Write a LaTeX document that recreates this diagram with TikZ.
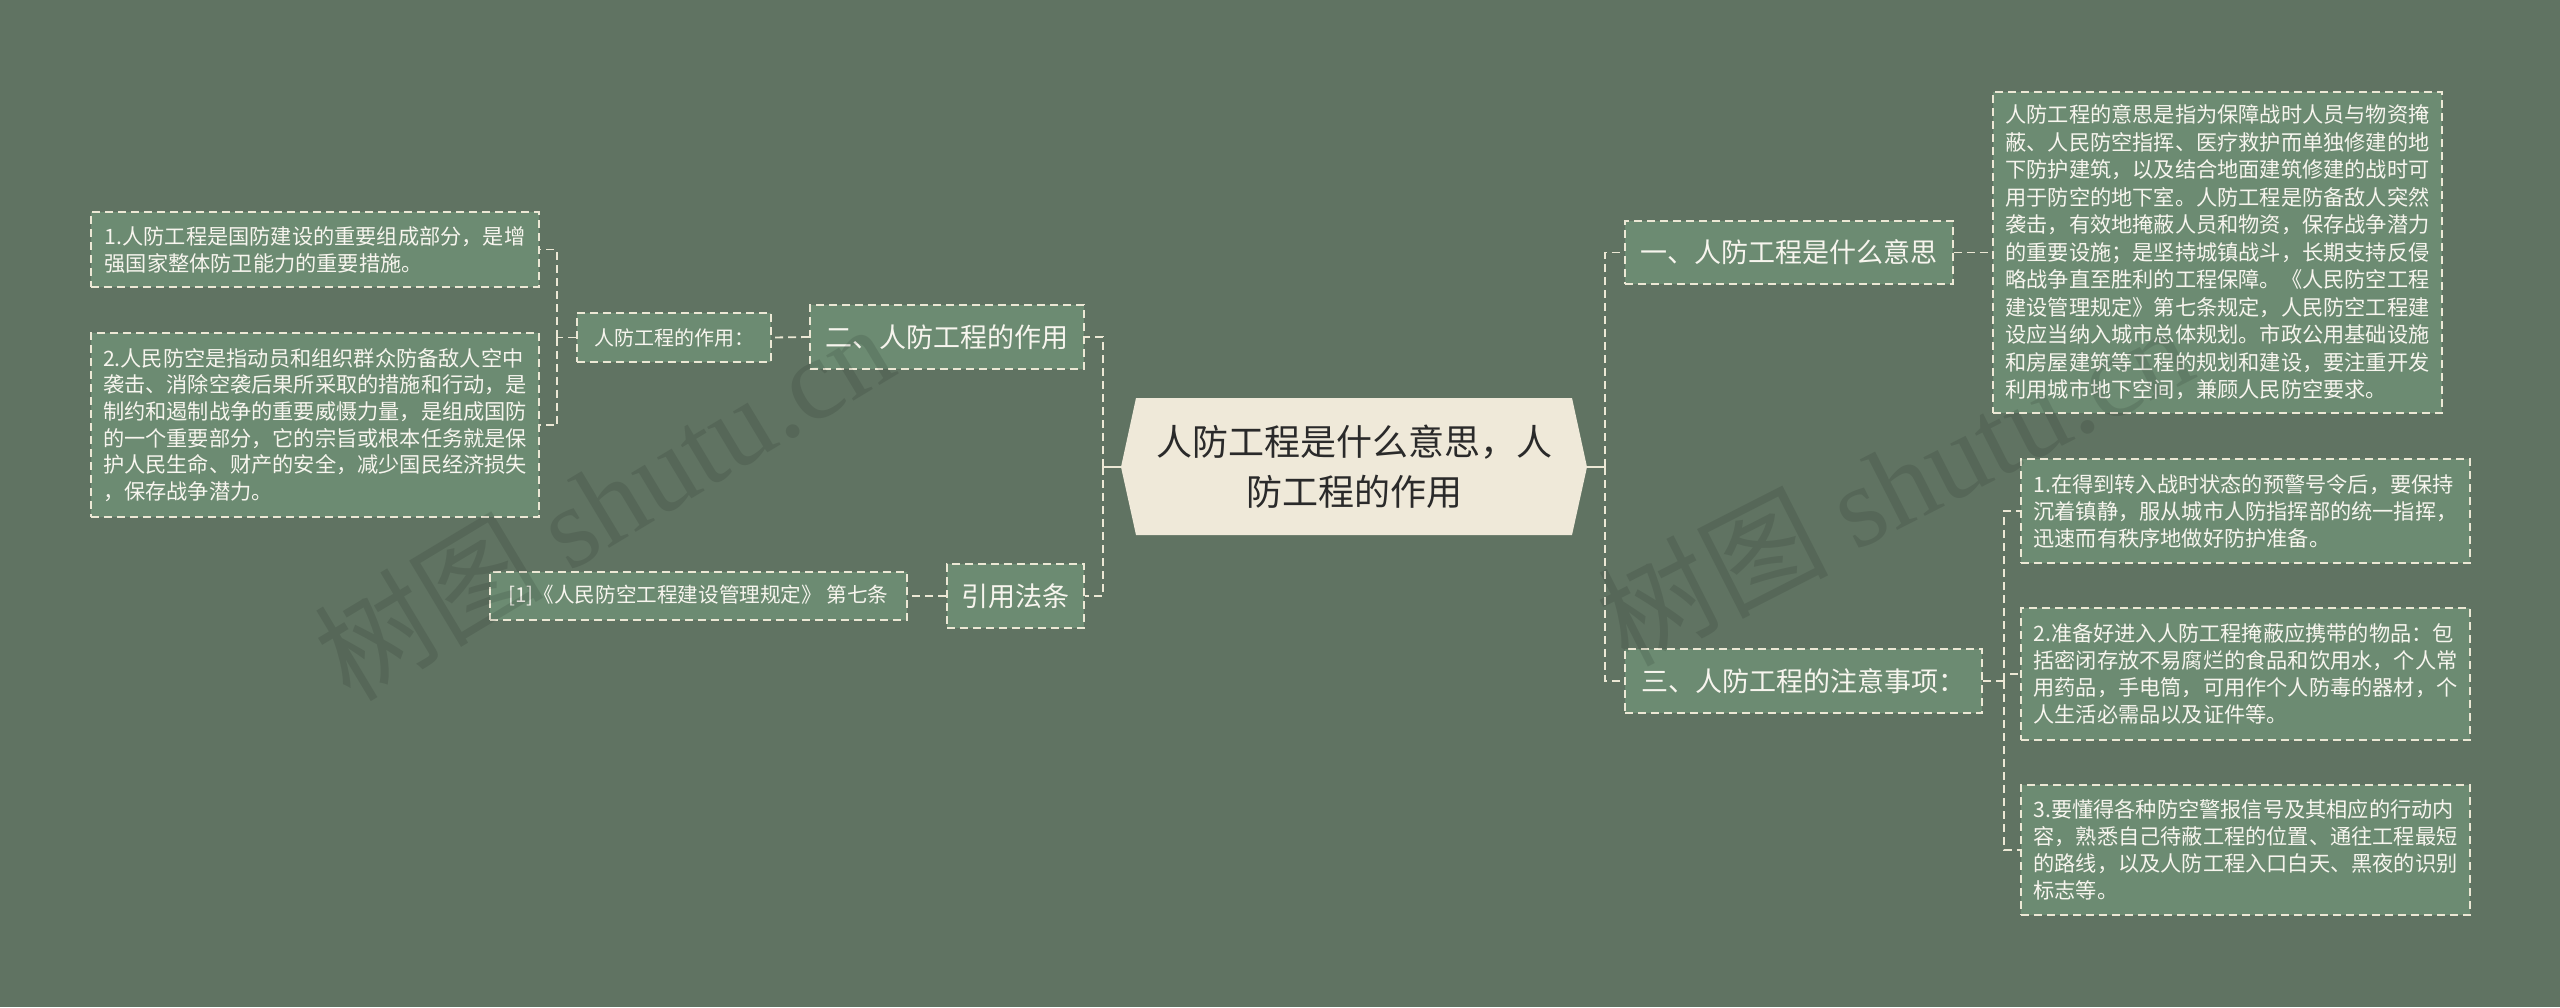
\documentclass[tikz,border=0pt]{standalone}
\usepackage{fontspec}
\setmainfont{Noto Sans CJK SC}
\newfontfamily\wmlatin{Liberation Serif}
\definecolor{bg}{HTML}{607362}
\definecolor{nodefill}{HTML}{6C8B72}
\definecolor{edge}{HTML}{ECE8D5}
\definecolor{txt}{HTML}{F7F5EE}
\definecolor{rootfill}{HTML}{EFE9D9}
\definecolor{roottxt}{HTML}{2A2A2A}
\tikzset{
  box/.style={draw=edge, fill=nodefill, dash pattern=on 8pt off 5pt, line width=1.8pt, text=txt, inner sep=0pt},
  conn/.style={draw=edge, dash pattern=on 8pt off 5pt, line width=1.8pt},
  solidconn/.style={draw=edge, line width=2pt},
  lvlone/.style={box, font=\fontsize{27}{34}\selectfont},
  leaf/.style={box, font=\fontsize{21.2}{27}\selectfont, align=left},
  wm/.style={text=black, opacity=0.10, font=\fontsize{115}{125}\selectfont}
}
\begin{document}
\begin{tikzpicture}[x=1pt,y=-1pt]
\useasboundingbox[fill=bg] (0,0) rectangle (2560,1007);

% root
\fill[rootfill] (1121,467) -- (1136,398) -- (1572,398) -- (1587,467) -- (1572,535) -- (1136,535) -- cycle;
\node (root) at (1354,467) [minimum width=466pt, minimum height=137pt, inner sep=0pt, text=roottxt, align=center, font=\fontsize{36}{50}\selectfont] {人防工程是什么意思，人\\防工程的作用};

% right side
\node (n1) at (1789,252.5) [lvlone, minimum width=328pt, minimum height=63pt] {一、人防工程是什么意思};
\node (desc) at (2217.5,252.5) [leaf, minimum width=449pt, minimum height=321pt, font=\fontsize{21.2}{27.5}\selectfont] {人防工程的意思是指为保障战时人员与物资掩\\蔽、人民防空指挥、医疗救护而单独修建的地\\下防护建筑，以及结合地面建筑修建的战时可\\用于防空的地下室。人防工程是防备敌人突然\\袭击，有效地掩蔽人员和物资，保存战争潜力\\的重要设施；是坚持城镇战斗，长期支持反侵\\略战争直至胜利的工程保障。《人民防空工程\\建设管理规定》第七条规定，人民防空工程建\\设应当纳入城市总体规划。市政公用基础设施\\和房屋建筑等工程的规划和建设，要注重开发\\利用城市地下空间，兼顾人民防空要求。};
\node (n3) at (1803.5,681) [lvlone, minimum width=357pt, minimum height=64pt] {三、人防工程的注意事项：};
\node (r1) at (2245.5,511) [leaf, minimum width=449pt, minimum height=104pt] {1.在得到转入战时状态的预警号令后，要保持\\沉着镇静，服从城市人防指挥部的统一指挥，\\迅速而有秩序地做好防护准备。};
\node (r2) at (2245.5,674) [leaf, minimum width=449pt, minimum height=132pt] {2.准备好进入人防工程掩蔽应携带的物品：包\\括密闭存放不易腐烂的食品和饮用水，个人常\\用药品，手电筒，可用作个人防毒的器材，个\\人生活必需品以及证件等。};
\node (r3) at (2245.5,850) [leaf, minimum width=449pt, minimum height=130pt] {3.要懂得各种防空警报信号及其相应的行动内\\容，熟悉自己待蔽工程的位置、通往工程最短\\的路线，以及人防工程入口白天、黑夜的识别\\标志等。};

% left side
\node (n2) at (947,337) [lvlone, minimum width=274pt, minimum height=64pt] {二、人防工程的作用};
\node (b2) at (674,337.5) [box, minimum width=194pt, minimum height=49pt, font=\fontsize{20}{26}\selectfont] {人防工程的作用：};
\node (l1) at (315,249.5) [leaf, minimum width=448pt, minimum height=75pt] {1.人防工程是国防建设的重要组成部分，是增\\强国家整体防卫能力的重要措施。};
\node (l2) at (315,425) [leaf, minimum width=448pt, minimum height=184pt, font=\fontsize{21.2}{26.7}\selectfont] {2.人民防空是指动员和组织群众防备敌人空中\\袭击、消除空袭后果所采取的措施和行动，是\\制约和遏制战争的重要威慑力量，是组成国防\\的一个重要部分，它的宗旨或根本任务就是保\\护人民生命、财产的安全，减少国民经济损失\\，保存战争潜力。};
\node (law) at (1015.5,596) [lvlone, minimum width=137pt, minimum height=64pt] {引用法条};
\node (cite) at (698.5,596) [box, minimum width=417pt, minimum height=48pt, font=\fontsize{20.6}{26}\selectfont] {[1]《人民防空工程建设管理规定》 第七条};

% connectors
\coordinate (lj) at (1103,467);
\coordinate (rj) at (1605,467);
\draw[solidconn] (root.west) -- (lj);
\draw[solidconn] (1103,460) -- (1103,474);
\draw[solidconn] (root.east) -- (rj);
\draw[solidconn] (1605,460) -- (1605,474);
\draw[conn] (lj) |- (n2.east);
\draw[conn] (lj) |- (law.east);
\draw[conn] (rj) |- (n1.west);
\draw[conn] (rj) |- (n3.west);
\draw[conn] (n1.east) -- (desc.west);
\draw[conn] (n3.east) -- ++(21,0) coordinate (j3);
\draw[conn] (j3) |- (r1.west);
\draw[conn] (j3) |- (r2.west);
\draw[conn] (j3) |- (r3.west);
\draw[conn] (n2.west) -- (b2.east);
\draw[conn] (b2.west) -- ++(-19,0) coordinate (j2);
\draw[conn] (j2) |- (l1.east);
\draw[conn] (j2) |- (l2.east);
\draw[conn] (law.west) -- (cite.east);

% watermarks
\node (wm1) at (603,501) [wm, rotate=31] {树图 {\wmlatin shutu.cn}};
\node (wm2) at (1894,483) [wm, rotate=27] {树图 {\wmlatin shutu.cn}};
\end{tikzpicture}
\end{document}
